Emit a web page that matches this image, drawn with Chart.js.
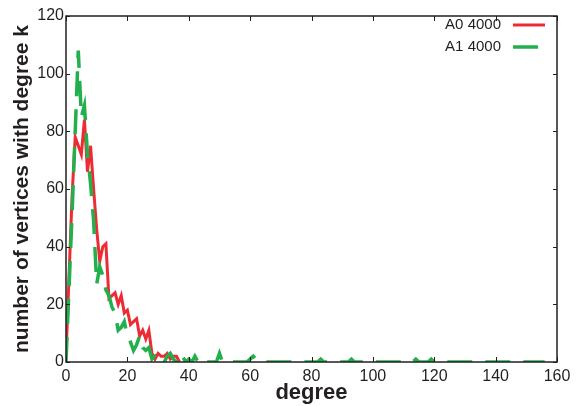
<!DOCTYPE html>
<html>
<head>
<meta charset="utf-8">
<script src="https://cdn.jsdelivr.net/npm/chart.js@4/dist/chart.umd.min.js"></script>
<style>
  html, body { margin: 0; padding: 0; background: #fff; }
  #stage { display: block; }
</style>
</head>
<body>
<canvas id="stage" width="576" height="406"></canvas>
<script>
// data
var degreesA0 = [0, 1, 2, 3, 4, 5, 6, 7, 8, 9, 10, 11, 12, 13, 14, 15, 16, 17, 18, 19,
                 20, 21, 22, 23, 24, 25, 26, 27, 28, 29, 30, 31, 32, 33, 34, 35, 36, 37];
var countsA0  = [2, 30, 58, 78, 75, 72, 84, 66, 75, 60, 46, 35, 40, 41, 22, 23, 24, 20, 23, 17,
                 18, 13, 14, 15, 9, 11, 8, 11, 3, 1, 3, 2, 2, 3, 1, 2, 2, 0];

var degreesA1 = [0, 1, 2, 3, 4, 5, 6, 7, 8, 9, 10, 11, 12, 13, 14, 15, 16, 17, 18, 19,
                 20, 21, 22, 23, 24, 25, 26, 27, 28, 29, 30, 31, 32, 33, 34, 35, 36, 37, 38, 39,
                 40, 41, 42, 43, 44, 45, 49, 50, 51, 59, 60, 61, 62, 63,
                 82, 83, 84, 92, 93, 94, 113, 114, 115, 118, 119, 120, 156];
var countsA1  = [0, 26, 52, 80, 108, 85, 89, 72, 62, 49, 27, 33, 30, 25, 23, 19, 17, 11, 12, 14,
                 9, 7, 4, 6, 9, 5, 4, 5, 1, 2, 0, 1, 0, 2, 3, 1, 0, 3, 2, 0,
                 1, 0, 2, 0, 1, 0, 0, 3, 0, 0, 1, 2, 1, 0,
                 0, 1, 0, 0, 1, 0, 0, 1, 0, 0, 1, 0, 0];

var xTicks = [0, 20, 40, 60, 80, 100, 120, 140, 160];
var yTicks = [0, 20, 40, 60, 80, 100, 120];

var seriesNames = ['A0 4000', 'A1 4000'];
var ink = '#231f20';
var fontFam = "'Liberation Sans', Arial, Helvetica, sans-serif";

function toPoints(xs, ys) {
  return xs.map(function (x, i) { return { x: x, y: ys[i] }; });
}

// frame round the plot, inward ticks, legend drawn inside the top right
var framePlugin = {
  id: 'frame',
  afterDraw: function (chart) {
    var ctx = chart.ctx, a = chart.chartArea;
    var xs = chart.scales.x, ys = chart.scales.y;
    ctx.save();
    ctx.strokeStyle = ink;
    ctx.lineWidth = 1.5;
    ctx.strokeRect(a.left, a.top, a.right - a.left, a.bottom - a.top);
    ctx.lineWidth = 1;
    xTicks.forEach(function (v) {
      var px = Math.round(xs.getPixelForValue(v)) + 0.5;
      ctx.beginPath();
      ctx.moveTo(px, a.bottom); ctx.lineTo(px, a.bottom - 5);
      ctx.moveTo(px, a.top); ctx.lineTo(px, a.top + 5);
      ctx.stroke();
    });
    yTicks.forEach(function (v) {
      var py = Math.round(ys.getPixelForValue(v)) + 0.5;
      ctx.beginPath();
      ctx.moveTo(a.left, py); ctx.lineTo(a.left + 4, py);
      ctx.moveTo(a.right, py); ctx.lineTo(a.right - 4, py);
      ctx.stroke();
    });

    // legend
    ctx.font = '15px ' + fontFam;
    ctx.textAlign = 'right';
    ctx.textBaseline = 'middle';
    chart.data.datasets.forEach(function (ds, i) {
      var y = 25 + i * 22;
      ctx.fillStyle = ink;
      ctx.fillText(ds.label, 501, y);
      ctx.strokeStyle = ds.borderColor;
      ctx.lineWidth = ds.borderWidth;
      ctx.setLineDash([]);
      ctx.beginPath();
      ctx.moveTo(513, y);
      ctx.lineTo(i === 0 ? 545 : 538, y);
      ctx.stroke();
    });
    ctx.restore();
  }
};

var myChart = new Chart(document.getElementById('stage').getContext('2d'), {
  type: 'line',
  data: {
    datasets: [
      {
        label: seriesNames[0],
        data: toPoints(degreesA0, countsA0),
        borderColor: '#ee2b34',
        borderWidth: 3,
        pointRadius: 0,
        tension: 0,
        fill: false,
        order: 1
      },
      {
        label: seriesNames[1],
        data: toPoints(degreesA1, countsA1),
        borderColor: '#22b04c',
        borderWidth: 3.5,
        borderDash: [25, 13],
        pointRadius: 0,
        tension: 0,
        fill: false,
        order: 0
      }
    ]
  },
  options: {
    responsive: false,
    animation: false,
    devicePixelRatio: 1,
    layout: { padding: { left: 0, top: 16, right: 19, bottom: 0 } },
    plugins: {
      legend: { display: false },
      tooltip: { enabled: false }
    },
    scales: {
      x: {
        type: 'linear',
        min: 0,
        max: 160,
        grid: { display: false, drawTicks: false },
        border: { display: false },
        afterFit: function (s) { s.height = 44; s.paddingLeft = 0; s.paddingRight = 0; },
        afterBuildTicks: function (s) { s.ticks = xTicks.map(function (v) { return { value: v }; }); },
        ticks: { font: { size: 16, family: fontFam }, color: ink, padding: 5, maxRotation: 0 },
        title: {
          display: true,
          text: 'degree',
          color: ink,
          font: { size: 22, weight: 'bold', family: fontFam, lineHeight: 1.15 },
          padding: { top: 0, bottom: 0 }
        }
      },
      y: {
        min: 0,
        max: 120,
        grid: { display: false, drawTicks: false },
        border: { display: false },
        afterFit: function (s) { s.width = 66; s.paddingTop = 0; s.paddingBottom = 0; },
        afterBuildTicks: function (s) { s.ticks = yTicks.map(function (v) { return { value: v }; }); },
        ticks: { font: { size: 16, family: fontFam }, color: ink, padding: 2 },
        title: {
          display: true,
          text: 'number of vertices with degree k',
          color: ink,
          font: { size: 21, weight: 'bold', family: fontFam, lineHeight: 1.2 },
          padding: { top: 10, bottom: 0 }
        }
      }
    }
  },
  plugins: [framePlugin]
});
</script>
</body>
</html>
